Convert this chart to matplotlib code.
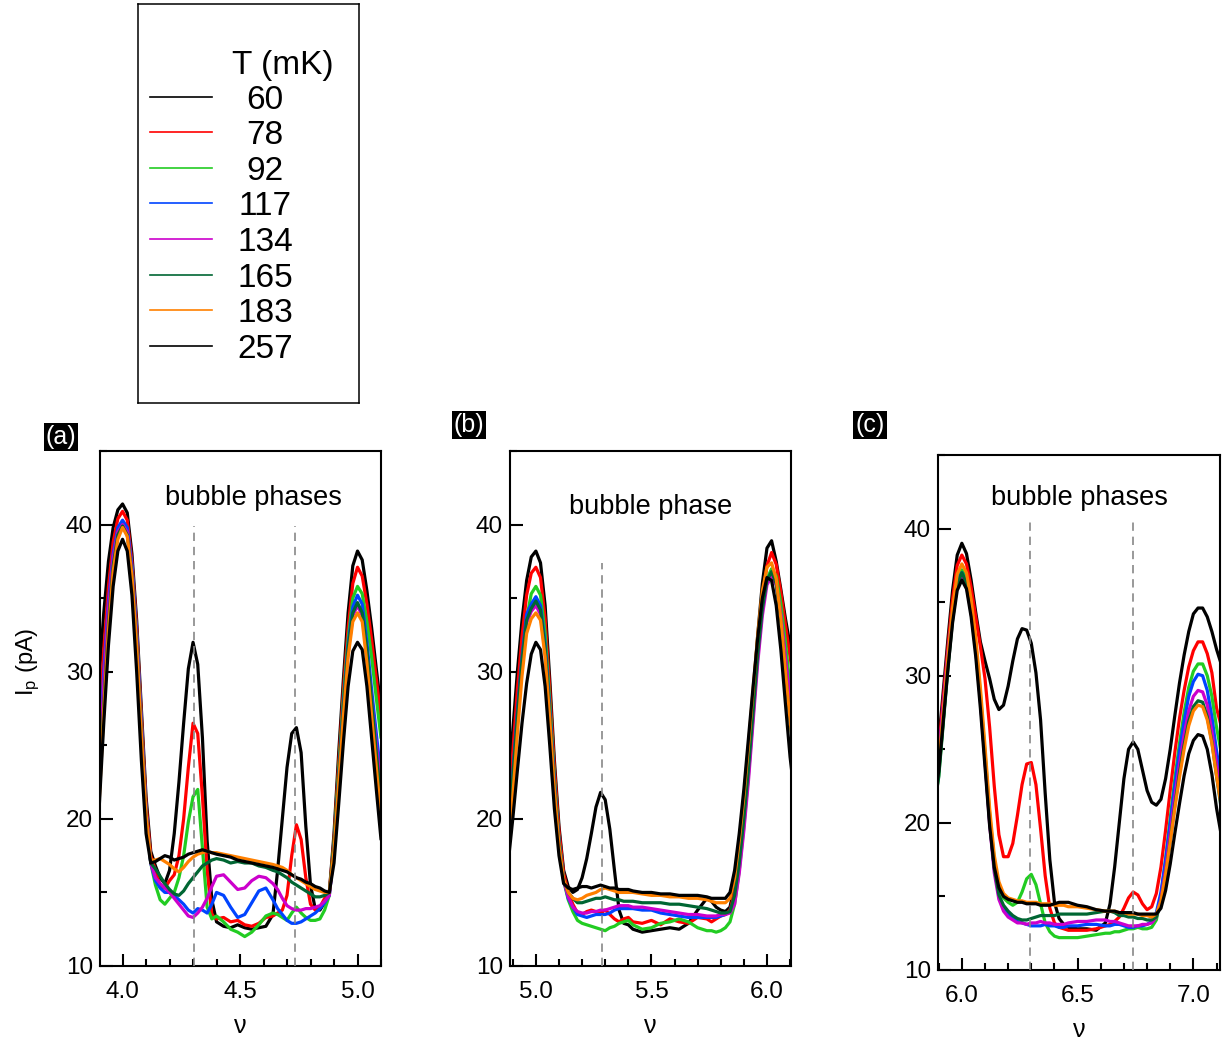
import matplotlib
matplotlib.use('Agg')
import matplotlib.pyplot as plt
from matplotlib.ticker import MultipleLocator, FormatStrFormatter

plt.rcParams['font.family'] = ['Liberation Sans', 'DejaVu Sans']
plt.rcParams['mathtext.fontset'] = 'custom'
plt.rcParams['mathtext.rm'] = 'Liberation Sans'
plt.rcParams['mathtext.it'] = 'Liberation Sans:italic'

temps = ['60', '78', '92', '117', '134', '165', '183', '257']
colors = ['black', '#ff0000', '#22cc22', '#0044ff', '#cc00cc', '#006633', '#ff8000', 'black']

# panel (a)
xa = [3.90, 3.92, 3.94, 3.96, 3.98, 4.00, 4.02, 4.04, 4.06, 4.08, 4.10, 4.12, 4.14, 4.16, 4.18,
      4.20, 4.22, 4.24, 4.26, 4.28, 4.30, 4.32, 4.34, 4.36, 4.38, 4.40,
      4.43, 4.46, 4.49, 4.52, 4.55, 4.58, 4.61, 4.64,
      4.66, 4.68, 4.70, 4.72, 4.74, 4.76, 4.78, 4.80, 4.82, 4.84, 4.86, 4.88,
      4.90, 4.92, 4.94, 4.96, 4.98, 5.00, 5.02, 5.04, 5.06, 5.08, 5.10]
a_60 = [29.5, 34.0, 37.5, 39.8, 41.0, 41.4, 40.8, 38.0, 33.5, 27.5, 21.5, 17.8, 16.8, 16.0, 15.6,
        16.5, 19.0, 22.5, 26.5, 30.2, 32.0, 30.5, 25.5, 18.5, 14.5, 13.0,
        12.7, 12.6, 12.8, 12.6, 12.5, 12.6, 12.7, 13.5,
        16.5, 20.0, 23.5, 25.8, 26.2, 24.5, 19.5, 15.5, 13.9, 13.8, 14.3, 15.0,
        19.0, 24.5, 29.5, 34.0, 37.2, 38.2, 37.6, 35.5, 33.0, 30.2, 27.5]
a_78 = [26.0, 31.5, 35.8, 38.8, 40.4, 40.9, 40.3, 37.5, 33.0, 27.0, 21.0, 17.5, 16.5, 15.4, 15.3,
        15.8, 16.2, 17.5, 20.0, 23.5, 26.5, 25.8, 21.5, 16.5, 13.5, 13.2,
        13.3, 13.0, 13.1, 12.8, 12.7, 12.9, 13.3, 13.4,
        13.6, 13.8, 14.8, 17.5, 19.6, 18.6, 16.0, 14.2, 13.8, 14.0, 14.6, 15.0,
        18.6, 23.8, 28.8, 33.0, 36.0, 37.1, 36.5, 34.6, 32.2, 29.5, 26.9]
a_92 = [22.5, 28.5, 33.8, 37.5, 39.5, 40.1, 39.6, 37.0, 32.5, 26.5, 20.5, 17.0, 15.5, 14.5, 14.2,
        14.6, 15.0, 16.0, 17.5, 19.8, 21.5, 22.0, 18.0, 14.0, 13.2, 13.4,
        13.0, 12.5, 12.3, 12.0, 12.3, 12.8, 13.4, 13.6,
        13.5, 13.3, 13.1, 13.6, 14.0, 13.6, 13.3, 13.1, 13.1, 13.2, 13.8, 14.8,
        18.3, 23.3, 28.2, 32.2, 35.0, 35.8, 35.3, 33.4, 31.0, 28.2, 25.5]
a_117 = [24.0, 30.0, 34.8, 38.0, 39.8, 40.3, 39.8, 37.2, 32.6, 26.5, 20.5, 17.0, 15.8, 15.3, 15.0,
         15.0, 14.8, 14.5, 14.2, 13.8, 13.6, 13.9, 13.8, 13.6, 14.2, 15.0,
         14.8, 14.0, 13.3, 13.5, 14.3, 15.1, 15.3, 14.5,
         13.9, 13.5, 13.1, 12.9, 12.9, 13.0, 13.2, 13.4, 13.6, 13.9, 14.3, 14.8,
         17.8, 22.8, 27.8, 31.8, 34.4, 35.2, 34.6, 32.0, 28.8, 25.8, 22.9]
a_134 = [23.0, 29.2, 34.3, 37.7, 39.5, 40.0, 39.5, 36.9, 32.3, 26.3, 20.5, 17.0, 16.0, 15.6, 15.3,
         15.0, 14.6, 14.2, 13.8, 13.4, 13.3, 13.6, 14.0, 14.6, 15.4, 16.1,
         16.2, 15.7, 15.2, 15.3, 15.8, 16.1, 16.0, 15.6,
         15.2, 14.6, 14.1, 13.9, 13.8, 13.8, 13.9, 13.9, 14.0, 14.1, 14.4, 14.8,
         17.8, 22.6, 27.4, 31.3, 33.8, 34.5, 33.8, 31.2, 28.0, 25.0, 22.2]
a_165 = [21.5, 27.8, 33.3, 37.2, 39.3, 39.9, 39.3, 36.7, 32.0, 26.0, 20.3, 17.0, 16.6, 16.1, 15.6,
         15.2, 14.9, 14.8, 15.1, 15.6, 16.0, 16.4, 16.8, 17.0, 17.2, 17.3,
         17.2, 17.0, 17.1, 17.0, 17.0, 16.8, 16.7, 16.5,
         16.4, 16.2, 16.0, 15.7, 15.5, 15.3, 15.1, 14.9, 14.7, 14.7, 14.8, 15.0,
         18.0, 22.8, 27.6, 31.6, 34.0, 34.7, 34.0, 31.5, 28.0, 24.5, 21.2]
a_183 = [21.0, 27.3, 32.8, 36.8, 39.0, 39.8, 39.2, 36.5, 31.8, 25.8, 20.3, 17.2, 17.2, 17.3, 17.1,
         16.9, 16.6, 16.4, 16.7, 17.1, 17.4, 17.6, 17.7, 17.8, 17.7, 17.7,
         17.6, 17.5, 17.4, 17.3, 17.2, 17.1, 17.0, 16.9,
         16.8, 16.7, 16.5, 16.2, 16.0, 15.8, 15.6, 15.4, 15.2, 15.1, 15.0, 15.0,
         17.8, 22.4, 27.0, 31.0, 33.4, 34.0, 33.4, 30.6, 27.0, 23.5, 20.1]
a_257 = [20.6, 26.5, 31.8, 35.8, 38.2, 39.0, 38.2, 35.2, 30.0, 24.0, 19.0, 17.0, 17.1, 17.3, 17.5,
         17.4, 17.2, 17.3, 17.4, 17.6, 17.7, 17.8, 17.9, 17.8, 17.7, 17.6,
         17.5, 17.4, 17.2, 17.1, 17.0, 16.9, 16.8, 16.7,
         16.6, 16.5, 16.4, 16.2, 16.0, 15.9, 15.7, 15.6, 15.4, 15.3, 15.1, 15.0,
         17.0, 21.0, 25.2, 29.0, 31.4, 32.0, 31.5, 29.0, 25.5, 22.0, 18.6]

# panel (b)
xb = [4.88, 4.90, 4.92, 4.94, 4.96, 4.98, 5.00, 5.02, 5.04, 5.06, 5.08, 5.10, 5.12, 5.14,
      5.16, 5.18, 5.20, 5.22, 5.24, 5.26, 5.28, 5.30, 5.32, 5.34, 5.36, 5.38, 5.40,
      5.42, 5.46, 5.50, 5.54, 5.58, 5.62, 5.66, 5.70, 5.74,
      5.76, 5.78, 5.80, 5.82, 5.84, 5.86, 5.88, 5.90, 5.92, 5.94, 5.96, 5.98, 6.00,
      6.02, 6.04, 6.06, 6.08, 6.10, 6.12]
b_60 = [22.5, 26.0, 30.0, 33.5, 36.2, 37.8, 38.2, 37.4, 34.5, 29.5, 24.0, 19.5, 16.5, 15.4,
        15.0, 15.2, 16.0, 17.3, 19.0, 20.8, 21.8, 21.3, 19.3, 16.5, 13.8, 12.9, 12.8,
        12.5, 12.3, 12.4, 12.5, 12.6, 12.5, 12.9, 13.8, 14.6,
        14.4, 14.0, 13.8, 13.7, 14.0, 15.5, 17.8, 20.8, 24.3, 28.3, 32.5, 36.0, 38.4,
        38.9, 37.5, 35.6, 33.6, 31.8, 30.0]
b_78 = [20.5, 24.5, 28.8, 32.4, 35.2, 36.7, 37.1, 36.4, 33.6, 28.8, 23.5, 19.2, 16.3, 15.0,
        14.2, 13.6, 13.5, 13.7, 13.8, 13.7, 13.6, 13.8, 13.5, 13.2, 13.0, 13.2, 13.3,
        13.0, 12.9, 13.1, 12.8, 13.2, 13.0, 12.9, 13.3, 13.2,
        13.0, 13.2, 13.4, 13.5, 13.8, 15.0, 17.3, 20.3, 23.8, 27.8, 31.8, 35.0, 37.2,
        38.1, 37.3, 35.4, 33.2, 31.0, 29.0]
b_92 = [18.5, 22.5, 26.8, 30.6, 33.6, 35.3, 35.8, 35.2, 32.6, 28.0, 22.8, 18.6, 15.8, 14.5,
        13.7, 13.1, 12.9, 12.8, 12.7, 12.6, 12.5, 12.4, 12.6, 12.7, 12.9, 13.0, 13.1,
        12.8, 12.5, 12.6, 12.9, 13.0, 13.2, 13.0, 12.6, 12.4,
        12.4, 12.3, 12.4, 12.6, 13.0, 14.2, 16.5, 19.5, 23.0, 27.0, 31.0, 34.2, 36.3,
        37.0, 36.5, 34.6, 32.0, 29.0, 26.5]
b_117 = [19.0, 23.0, 27.3, 31.0, 33.9, 34.6, 35.1, 34.5, 31.9, 27.5, 22.5, 18.5, 15.9, 14.6,
         14.0, 13.5, 13.4, 13.3, 13.4, 13.5, 13.5, 13.5, 13.6, 13.8, 13.9, 13.9, 13.9,
         13.9, 13.8, 13.8, 13.6, 13.5, 13.4, 13.3, 13.3, 13.3,
         13.3, 13.3, 13.4, 13.5, 13.7, 14.6, 16.8, 19.8, 23.2, 27.2, 31.2, 34.3, 36.2,
         36.7, 36.0, 33.8, 30.8, 27.8, 25.0]
b_134 = [18.0, 22.3, 26.7, 30.5, 33.3, 34.1, 34.5, 33.9, 31.3, 27.0, 22.2, 18.3, 15.8, 14.7,
         14.0, 13.7, 13.6, 13.6, 13.7, 13.7, 13.8, 13.8, 13.9, 14.0, 14.1, 14.1, 14.1,
         14.0, 14.0, 13.9, 13.8, 13.7, 13.6, 13.5, 13.5, 13.4,
         13.4, 13.4, 13.5, 13.5, 13.6, 14.2, 16.3, 19.2, 22.6, 26.6, 30.6, 33.8, 35.9,
         36.5, 35.9, 33.9, 31.0, 28.1, 25.5]
b_165 = [18.5, 22.8, 27.0, 30.8, 33.5, 34.3, 34.8, 34.2, 31.6, 27.2, 22.3, 18.4, 15.9, 15.0,
         14.6, 14.3, 14.3, 14.4, 14.5, 14.6, 14.6, 14.7, 14.6, 14.5, 14.5, 14.4, 14.4,
         14.4, 14.3, 14.3, 14.3, 14.2, 14.2, 14.1, 14.0, 13.9,
         13.8, 13.7, 13.6, 13.6, 13.7, 14.8, 17.0, 20.0, 23.4, 27.3, 31.2, 34.3, 36.2,
         36.8, 36.0, 33.5, 30.0, 26.6, 24.0]
b_183 = [17.5, 21.5, 25.8, 29.7, 32.6, 33.6, 34.0, 33.5, 31.0, 26.8, 22.0, 18.2, 15.9, 15.0,
         14.6, 14.5, 14.6, 14.8, 14.9, 15.0, 15.2, 15.3, 15.2, 15.1, 15.0, 15.0, 15.0,
         15.0, 14.9, 14.8, 14.8, 14.7, 14.7, 14.6, 14.6, 14.5,
         14.4, 14.3, 14.3, 14.3, 14.6, 16.0, 18.5, 21.5, 25.0, 28.8, 32.5, 35.5, 37.1,
         37.4, 36.3, 33.6, 30.0, 26.7, 24.0]
b_257 = [17.0, 20.0, 23.3, 26.5, 29.2, 31.2, 32.0, 31.5, 29.0, 25.0, 20.7, 17.5, 15.6, 15.3,
         15.2, 15.3, 15.4, 15.4, 15.3, 15.4, 15.5, 15.4, 15.3, 15.3, 15.2, 15.2, 15.2,
         15.1, 15.0, 15.0, 14.9, 14.9, 14.8, 14.8, 14.8, 14.7,
         14.6, 14.6, 14.6, 14.6, 15.0, 16.5, 19.0, 22.0, 25.5, 29.0, 32.3, 35.0, 36.4,
         36.2, 34.5, 31.5, 27.8, 24.2, 21.5]

# panel (c)
xc = [5.88, 5.90, 5.92, 5.94, 5.96, 5.98, 6.00, 6.02, 6.04, 6.06, 6.08, 6.10, 6.12, 6.14, 6.16,
      6.18, 6.20, 6.22, 6.24, 6.26, 6.28, 6.30, 6.32, 6.34, 6.36, 6.38, 6.40, 6.42, 6.44, 6.46,
      6.50, 6.54, 6.58, 6.62,
      6.64, 6.66, 6.68, 6.70, 6.72, 6.74, 6.76, 6.78, 6.80, 6.82, 6.84, 6.86, 6.88, 6.90,
      6.92, 6.94, 6.96, 6.98, 7.00, 7.02, 7.04, 7.06, 7.08, 7.10, 7.12]
c_60 = [23.0, 25.5, 29.0, 32.5, 35.8, 38.2, 39.0, 38.3, 36.5, 34.3, 32.3, 31.0, 29.8, 28.4, 27.7,
        28.0, 29.3, 31.0, 32.5, 33.2, 33.1, 32.2, 30.2, 27.0, 22.0, 17.5, 14.6, 13.5, 13.1, 12.9,
        12.8, 12.8, 12.7, 13.2,
        14.5, 17.0, 20.0, 23.0, 25.0, 25.5, 25.0, 23.6, 22.2, 21.4, 21.2, 21.6, 23.0, 25.0,
        27.3, 29.5, 31.4, 33.0, 34.2, 34.6, 34.6, 34.0, 33.0, 31.8, 30.8]
c_78 = [22.5, 25.0, 28.5, 32.0, 35.2, 37.5, 38.2, 37.6, 36.0, 34.0, 32.0, 29.8, 26.5, 22.5, 19.2,
        17.7, 17.7, 18.6, 20.5, 22.6, 24.0, 24.1, 22.6, 19.6, 16.4, 14.2, 13.2, 12.9, 12.8, 12.7,
        12.7, 12.7, 12.8, 13.0,
        13.1, 13.3, 13.6, 14.2, 14.9, 15.3, 15.1, 14.5, 14.1, 14.3, 15.2, 17.0, 19.5, 22.2,
        24.8, 27.1, 29.0, 30.6, 31.7, 32.3, 32.3, 31.5, 30.2, 27.8, 26.6]
c_92 = [21.0, 23.2, 27.0, 30.8, 34.2, 36.5, 37.2, 36.6, 34.8, 32.2, 28.8, 24.8, 20.6, 17.5, 15.6,
        14.9, 14.6, 14.4, 14.6, 15.3, 16.2, 16.5, 15.8, 14.5, 13.2, 12.6, 12.3, 12.2, 12.2, 12.2,
        12.2, 12.3, 12.4, 12.5,
        12.5, 12.6, 12.6, 12.7, 12.8, 12.8, 12.9, 12.8, 12.8, 12.9, 13.4, 15.0, 17.5, 20.3,
        23.0, 25.4, 27.5, 29.2, 30.3, 30.8, 30.8, 30.0, 28.6, 26.5, 24.8]
c_117 = [22.0, 24.2, 27.8, 31.4, 34.4, 36.4, 37.0, 36.3, 34.5, 31.9, 28.5, 24.5, 20.2, 16.9, 15.0,
         14.2, 13.8, 13.5, 13.3, 13.2, 13.1, 13.0, 13.0, 13.0, 13.1, 13.0, 13.0, 12.9, 12.9, 13.0,
         13.0, 13.1, 13.1, 13.0,
         13.0, 13.1, 13.1, 13.0, 12.9, 12.9, 13.0, 13.0, 13.1, 13.3, 13.9, 15.3, 17.5, 20.0,
         22.6, 24.9, 26.9, 28.6, 29.6, 30.1, 30.0, 29.0, 27.2, 24.9, 22.9]
c_134 = [22.5, 24.5, 28.0, 31.5, 34.3, 36.2, 36.8, 36.1, 34.3, 31.7, 28.3, 24.2, 19.9, 16.6, 14.8,
         14.0, 13.6, 13.4, 13.2, 13.2, 13.1, 13.2, 13.2, 13.3, 13.2, 13.2, 13.1, 13.1, 13.1, 13.2,
         13.3, 13.3, 13.4, 13.4,
         13.3, 13.3, 13.2, 13.1, 13.0, 13.0, 13.0, 13.1, 13.1, 13.2, 13.6, 14.8, 16.8, 19.3,
         21.8, 24.0, 26.0, 27.6, 28.6, 29.0, 28.9, 28.0, 26.2, 24.0, 22.0]
c_165 = [21.0, 23.1, 26.8, 30.5, 33.8, 36.2, 37.0, 36.3, 34.4, 31.8, 28.4, 24.3, 20.1, 16.9, 15.1,
         14.4, 14.0, 13.7, 13.5, 13.4, 13.4, 13.5, 13.6, 13.7, 13.7, 13.7, 13.7, 13.8, 13.8, 13.8,
         13.8, 13.8, 13.9, 14.0,
         14.0, 13.9, 13.7, 13.7, 13.6, 13.6, 13.5, 13.5, 13.4, 13.4, 13.6, 14.6, 16.5, 18.8,
         21.2, 23.4, 25.3, 26.9, 27.9, 28.3, 28.2, 27.2, 25.5, 23.2, 21.0]
c_183 = [22.0, 24.0, 27.6, 31.3, 34.6, 36.9, 37.6, 37.0, 35.2, 32.6, 29.2, 25.2, 21.0, 17.8, 16.0,
         15.2, 14.9, 14.8, 14.7, 14.7, 14.6, 14.6, 14.6, 14.5, 14.5, 14.5, 14.4, 14.4, 14.4, 14.3,
         14.3, 14.2, 14.1, 14.0,
         14.0, 14.0, 13.9, 13.9, 13.8, 13.8, 13.8, 13.7, 13.7, 13.6, 13.8, 14.7, 16.5, 18.7,
         21.0, 23.1, 25.0, 26.6, 27.6, 28.0, 27.9, 27.0, 25.4, 23.2, 21.2]
c_257 = [21.5, 23.5, 27.0, 30.5, 33.6, 35.8, 36.5, 35.9, 34.0, 31.3, 27.8, 23.8, 19.8, 17.0, 15.6,
         15.0, 14.8, 14.7, 14.6, 14.6, 14.5, 14.5, 14.5, 14.4, 14.4, 14.4, 14.5, 14.6, 14.6, 14.6,
         14.4, 14.3, 14.1, 14.0,
         14.0, 14.0, 13.9, 13.9, 13.9, 13.9, 13.8, 13.8, 13.8, 13.8, 13.8, 14.2, 15.4, 17.2,
         19.3, 21.3, 23.2, 24.7, 25.6, 26.0, 25.9, 25.0, 23.3, 21.0, 19.2]

# dashed marker positions
dash_a = [4.305, 4.735]
dash_b = [5.285]
dash_c = [6.295, 6.74]

W, H = 1225, 1042
fig = plt.figure(figsize=(W / 100, H / 100), dpi=100)


def frac(left, top, right, bottom):
    return [left / W, 1 - bottom / H, (right - left) / W, (bottom - top) / H]


panels = [
    dict(rect=frac(100, 451, 381, 966), xlim=(3.904, 5.10), x=xa,
         ys=[a_60, a_78, a_92, a_117, a_134, a_165, a_183, a_257],
         dash=dash_a, dtop=39.9, text='bubble phases', tpos=(4.557, 41.8),
         label='(a)', lpos=(61, 437)),
    dict(rect=frac(510, 451, 791, 966), xlim=(4.888, 6.104), x=xb,
         ys=[b_60, b_78, b_92, b_117, b_134, b_165, b_183, b_257],
         dash=dash_b, dtop=37.4, text='bubble phase', tpos=(5.496, 41.2),
         label='(b)', lpos=(469, 425)),
    dict(rect=frac(938, 455, 1220, 970), xlim=(5.897, 7.115), x=xc,
         ys=[c_60, c_78, c_92, c_117, c_134, c_165, c_183, c_257],
         dash=dash_c, dtop=40.5, text='bubble phases', tpos=(6.51, 42.1),
         label='(c)', lpos=(870, 425)),
]

for i, p in enumerate(panels):
    ax = fig.add_axes(p['rect'])
    for y, c in zip(p['ys'], colors):
        n = min(len(p['x']), len(y))
        ax.plot(p['x'][:n], y[:n], color=c, lw=2.3,
                solid_joinstyle='round', solid_capstyle='round')
    ax.vlines(p['dash'], 10, p['dtop'], colors='#888888', linestyles=(0, (5, 3.5)),
              lw=1.2, zorder=3)
    ax.text(p['tpos'][0], p['tpos'][1], p['text'], ha='center', va='center', fontsize=19.5)
    ax.set_xlim(*p['xlim'])
    ax.set_ylim(10, 45)
    ax.xaxis.set_major_locator(MultipleLocator(0.5))
    ax.xaxis.set_minor_locator(MultipleLocator(0.1))
    ax.xaxis.set_major_formatter(FormatStrFormatter('%.1f'))
    ax.yaxis.set_major_locator(MultipleLocator(10))
    ax.yaxis.set_minor_locator(MultipleLocator(5))
    ax.tick_params(which='both', direction='in', top=False, right=False,
                   labelsize=17.5, width=1.5)
    ax.tick_params(which='major', length=9)
    ax.tick_params(which='minor', length=5)
    ax.tick_params(axis='x', pad=11)
    ax.tick_params(axis='y', pad=5)
    for s in ax.spines.values():
        s.set_linewidth(1.5)
    ax.set_xlabel('ν', fontsize=18, labelpad=8)
    if i == 0:
        ax.set_ylabel(r'I$_\mathrm{p}$ (pA)', fontsize=17)
        ax.yaxis.set_label_coords(-0.205, 0.59)
    lx, ly = p['lpos']
    fig.text(lx / W, 1 - ly / H, p['label'], color='white', fontsize=18,
             ha='center', va='center',
             bbox=dict(boxstyle='square,pad=0.08', fc='black', ec='none'))

# legend box
lg = fig.add_axes(frac(138, 4, 359, 403))
lg.set_xlim(0, 1)
lg.set_ylim(0, 1)
lg.set_xticks([])
lg.set_yticks([])
for s in lg.spines.values():
    s.set_linewidth(1.1)
lg.text(0.656, 0.847, 'T (mK)', ha='center', va='center', fontsize=24)
rows = [0.767, 0.679, 0.589, 0.501, 0.411, 0.321, 0.233, 0.143]
for t, c, r in zip(temps, colors, rows):
    lg.plot([0.054, 0.335], [r, r], color=c, lw=1.2)
    lg.text(0.575, r - 0.008, t, ha='center', va='center', fontsize=24)

fig.savefig('out.png', dpi=100)
